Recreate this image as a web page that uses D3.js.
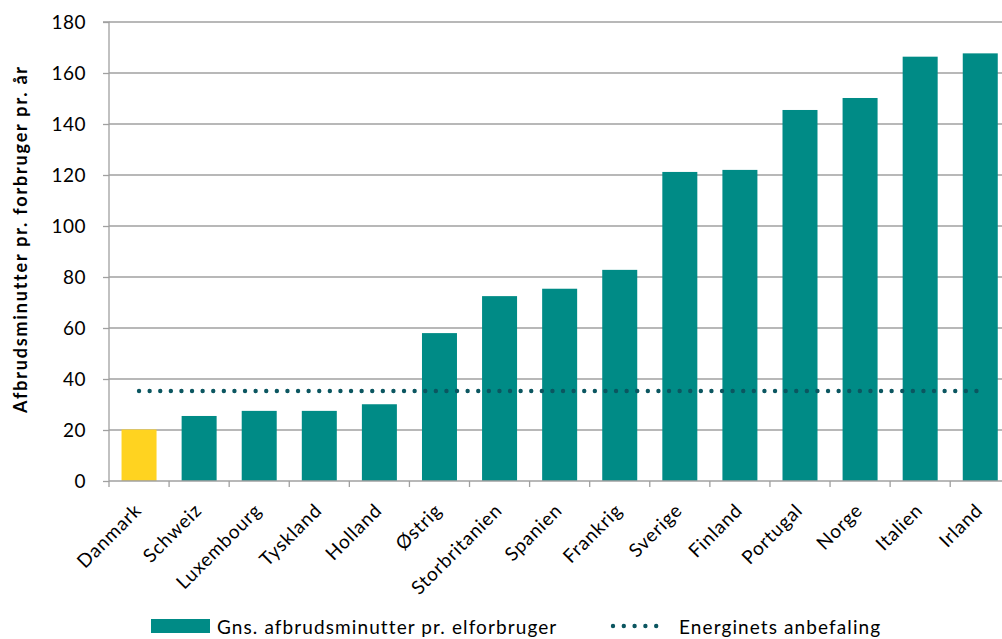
<!DOCTYPE html>
<html><head><meta charset="utf-8">
<script src="https://cdn.jsdelivr.net/npm/d3@7"></script>
<style>body{margin:0;background:#fff}svg{display:block}text{font-family:Lato,"Open Sans",sans-serif;fill:#000}</style>
</head><body><svg id="c" width="1002" height="639"></svg>
<script>
const categories = ["Danmark","Schweiz","Luxembourg","Tyskland","Holland","Østrig","Storbritanien","Spanien","Frankrig","Sverige","Finland","Portugal","Norge","Italien","Irland"];
const values = [20.2,25.5,27.5,27.5,30.1,58,72.5,75.4,82.8,121.2,122,145.5,150.2,166.4,167.7];
const recommendation = 35.3;
const yTicks = [0,20,40,60,80,100,120,140,160,180];
const seriesNames = ["Gns. afbrudsminutter pr. elforbruger","Energinets anbefaling"];
const yLabel = "Afbrudsminutter pr. forbruger pr. år";

(function(){
const svg = d3.select("#c");
const pL = 109, pR = 1010.3, pT = 22, pB = 481;
const x = d3.scaleBand().domain(categories).range([pL,pR]).paddingInner(0.4175).paddingOuter(0.4175/2);
const y = d3.scaleLinear().domain([0,180]).range([pB,pT]);
const teal = "#008b86", yellow = "#ffd320", dotC = "#0b5660", grid = "#a0a0a0";

svg.append("g").selectAll("line").data(yTicks.filter(d=>d>0)).join("line")
  .attr("x1",pL).attr("x2",pR).attr("y1",d=>y(d)).attr("y2",d=>y(d))
  .attr("stroke",grid).attr("stroke-width",1.3);

svg.append("g").selectAll("rect").data(categories).join("rect")
  .attr("x",d=>x(d)).attr("width",x.bandwidth())
  .attr("y",(d,i)=>y(values[i])).attr("height",(d,i)=>y(0)-y(values[i]))
  .attr("fill",(d,i)=>i===0?yellow:teal);

const ya = svg.append("g").attr("transform",`translate(${pL},0)`)
  .call(d3.axisLeft(y).tickValues(yTicks).tickSize(6).tickPadding(17));
ya.select(".domain").attr("stroke",grid).attr("stroke-width",1.3).attr("d",`M-6,${pT}H0V${pB}`);
ya.selectAll(".tick line").attr("stroke",grid).attr("stroke-width",1.3);
ya.selectAll(".tick text").style("font-size","19px").style("letter-spacing","0.5px").attr("dy","0.35em");

svg.append("line").attr("x1",pL).attr("x2",pR).attr("y1",pB).attr("y2",pB).attr("stroke",grid).attr("stroke-width",1.3);
const bounds = categories.map(c=>x(c)-x.step()*x.paddingInner()/2).concat([pR]);
svg.append("g").selectAll("line").data(bounds).join("line")
  .attr("x1",d=>d).attr("x2",d=>d).attr("y1",pB).attr("y2",pB+6)
  .attr("stroke",grid).attr("stroke-width",1.3);

svg.append("g").selectAll("text").data(categories).join("text")
  .attr("transform",d=>`translate(${x(d)+x.bandwidth()/2-1},${pB+26}) rotate(-45)`)
  .attr("text-anchor","end").attr("dy","0.35em").style("font-size","19px").style("letter-spacing","0.8px").text(d=>d);

const x0 = x(categories[0])+x.bandwidth()/2, x1 = x(categories[categories.length-1])+x.bandwidth()/2;
svg.append("line").attr("x1",x0).attr("x2",x1).attr("y1",y(recommendation)).attr("y2",y(recommendation))
  .attr("stroke",dotC).attr("stroke-width",4.4).attr("stroke-linecap","round").attr("stroke-dasharray","0 10.6");

svg.append("text").attr("transform",`translate(21,239) rotate(-90)`)
  .attr("text-anchor","middle").attr("dy","0.35em").style("font-size","18px").style("font-weight","bold")
  .style("letter-spacing","1.8px").text(yLabel);

svg.append("rect").attr("x",151).attr("y",619).attr("width",59).attr("height",14).attr("fill",teal);
svg.append("text").attr("x",217).attr("y",634).style("font-size","19px").style("letter-spacing","1.1px").text(seriesNames[0]);
svg.append("line").attr("x1",613).attr("x2",667).attr("y1",626).attr("y2",626)
  .attr("stroke",dotC).attr("stroke-width",4.4).attr("stroke-linecap","round").attr("stroke-dasharray","0 10.8");
svg.append("text").attr("x",679).attr("y",634).style("font-size","19px").style("letter-spacing","1.1px").text(seriesNames[1]);
})();
</script></body></html>
